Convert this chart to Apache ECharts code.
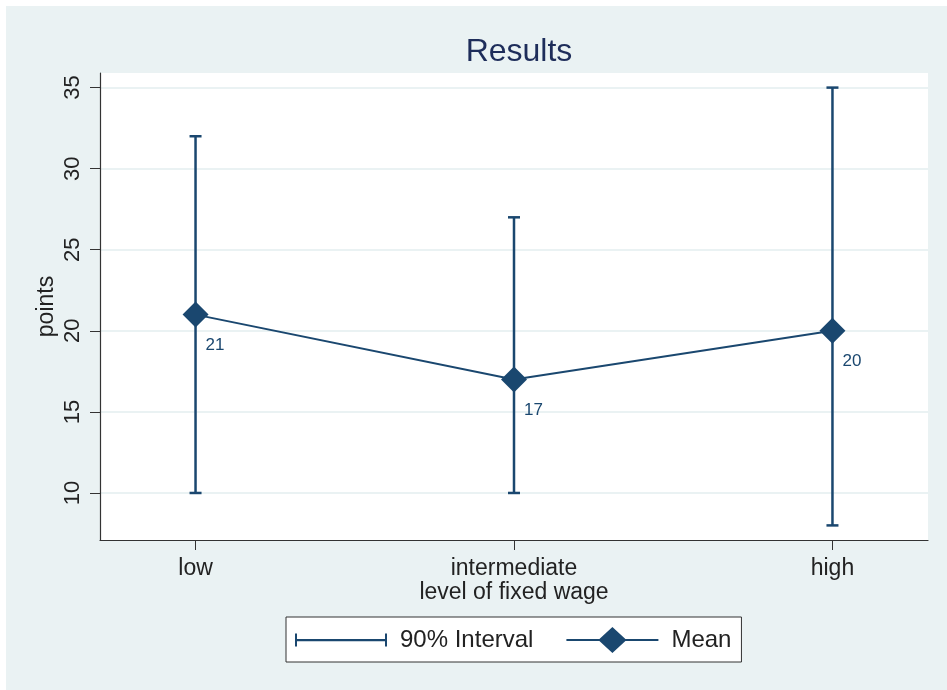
<!DOCTYPE html>
<html>
<head>
<meta charset="utf-8">
<script src="https://cdn.jsdelivr.net/npm/echarts@6/dist/echarts.min.js"></script>
<style>
  html, body { margin: 0; padding: 0; background: #fff; }
  #chart {
    width: 947px;
    height: 690px;
    background: linear-gradient(#EAF2F3, #EAF2F3) no-repeat 6px 6px / 941px 684px, #fff;
  }
</style>
</head>
<body>
<div id="chart"></div>
<script>
// data
const categories = ['low', 'intermediate', 'high'];
const means = [21, 17, 20];
const lower = [10, 10, 8];
const upper = [32, 27, 35];
const yTicks = [10, 15, 20, 25, 30, 35];

const navy = '#1A476F';
const ink = '#333';
const font = 'Liberation Sans, Arial, sans-serif';

const chart = echarts.init(document.getElementById('chart'), null, { renderer: 'canvas' });

const barData = categories.map((c, i) => [i + 1, lower[i], upper[i]]);
const meanData = categories.map((c, i) => [i + 1, means[i]]);

const option = {
  animation: false,
  textStyle: { fontFamily: font },
  title: {
    text: 'Results',
    left: 514,
    top: 31,
    textAlign: 'center',
    textStyle: { fontSize: 32, fontWeight: 'normal', color: '#1E2D5A', fontFamily: font }
  },
  grid: {
    left: 100,
    right: 19,
    top: 73,
    bottom: 150,
    show: true,
    backgroundColor: '#fff',
    borderWidth: 0
  },
  legend: {
    left: 286,
    top: 617,
    orient: 'horizontal',
    backgroundColor: '#fff',
    borderColor: ink,
    borderWidth: 1,
    borderRadius: 0,
    padding: [10, 10, 9, 9],
    itemGap: 33,
    itemWidth: 92,
    itemHeight: 26,
    selectedMode: false,
    textStyle: { fontSize: 24, color: '#222', fontFamily: font, padding: [2, 0, 0, 8] },
    data: [
      { name: '90% Interval', icon: 'path://M0,0h2v13h-2z M2,5.5h88v2.2h-88z M90,0h2v13h-2z' },
      { name: 'Mean', icon: 'path://M0,12H33L46,0L59,12H92V14H59L46,26L33,14H0Z' }
    ]
  },
  xAxis: {
    type: 'value',
    min: 0.7,
    max: 3.3,
    name: 'level of fixed wage',
    nameLocation: 'middle',
    nameGap: 41,
    nameMoveOverlap: false,
    nameTextStyle: { fontSize: 23, color: '#222', fontFamily: font },
    axisLine: { show: true, onZero: false, lineStyle: { color: ink, width: 1.2 } },
    axisTick: { show: true, length: 10, customValues: [1, 2, 3], lineStyle: { color: ink } },
    axisLabel: {
      margin: 17,
      fontSize: 23,
      color: '#222',
      customValues: [1, 2, 3],
      formatter: (v) => categories[Math.round(v) - 1] || ''
    },
    splitLine: { show: false }
  },
  yAxis: {
    type: 'value',
    min: 7.1,
    max: 35.9,
    name: 'points',
    nameLocation: 'middle',
    nameGap: 42,
    nameMoveOverlap: false,
    nameTextStyle: { fontSize: 23, color: '#222', fontFamily: font },
    axisLine: { show: true, onZero: false, lineStyle: { color: ink, width: 1.2 } },
    axisTick: { show: true, length: 10, customValues: yTicks, lineStyle: { color: ink } },
    axisLabel: {
      rotate: 90,
      margin: 16,
      fontSize: 22,
      color: '#222',
      customValues: yTicks
    },
    splitLine: { show: true, lineStyle: { color: '#EAF2F3', width: 2 } }
  },
  series: [
    {
      name: '90% Interval',
      type: 'custom',
      z: 2,
      itemStyle: { color: navy },
      encode: { x: 0, y: [1, 2] },
      data: barData,
      renderItem: (params, api) => {
        const x = api.value(0);
        const top = api.coord([x, api.value(2)]);
        const bot = api.coord([x, api.value(1)]);
        const half = 6;
        const style = { stroke: navy, lineWidth: 2.5 };
        return {
          type: 'group',
          children: [
            { type: 'line', shape: { x1: top[0], y1: top[1], x2: bot[0], y2: bot[1] }, style },
            { type: 'line', shape: { x1: top[0] - half, y1: top[1], x2: top[0] + half, y2: top[1] }, style },
            { type: 'line', shape: { x1: bot[0] - half, y1: bot[1], x2: bot[0] + half, y2: bot[1] }, style }
          ]
        };
      }
    },
    {
      name: 'Mean',
      type: 'line',
      z: 3,
      data: meanData,
      symbol: 'diamond',
      symbolSize: 26,
      itemStyle: { color: navy },
      lineStyle: { color: navy, width: 2 },
      label: {
        show: true,
        position: [23, 35],
        fontSize: 17,
        color: navy,
        fontFamily: font,
        formatter: (p) => p.value[1]
      }
    }
  ]
};

chart.setOption(option);
</script>
</body>
</html>
